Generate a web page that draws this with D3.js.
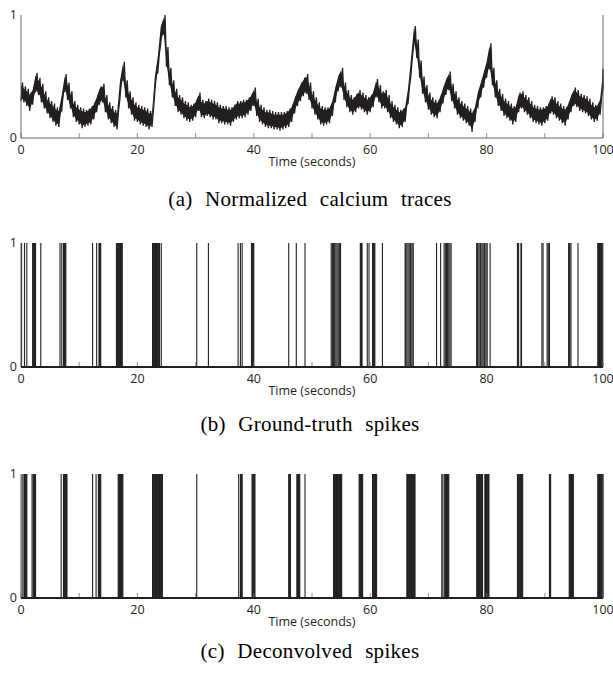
<!DOCTYPE html>
<html>
<head>
<meta charset="utf-8">
<script src="https://cdn.jsdelivr.net/npm/d3@7"></script>
<style>
  body { margin: 0; background: #fff; }
  svg { display: block; }
  .tick-label { font-family: "Open Sans", sans-serif; font-size: 12.5px; fill: #231f20; }
  .caption { font-family: "Liberation Serif", "Times New Roman", serif; font-size: 21px; fill: #000; word-spacing: 7px; letter-spacing: 0.3px; }
</style>
</head>
<body>
<div id="chart"></div>
<script>
// calcium trace, one sample every 0.5 s from 0 to 100 s:
// lower and upper edge of the noisy trace
var traceStep = 0.5;
var traceLow = [
  0.30, 0.29, 0.26, 0.22, 0.27, 0.37, 0.35, 0.29, 0.24, 0.20,
  0.16, 0.13, 0.10, 0.09, 0.22, 0.38, 0.31, 0.24, 0.17, 0.13,
  0.11, 0.08, 0.09, 0.10, 0.11, 0.15, 0.21, 0.27, 0.29, 0.21,
  0.15, 0.12, 0.09, 0.07, 0.32, 0.47, 0.33, 0.24, 0.19, 0.14,
  0.13, 0.11, 0.10, 0.09, 0.07, 0.09, 0.38, 0.53, 0.76, 0.84,
  0.58, 0.43, 0.33, 0.26, 0.21, 0.19, 0.16, 0.14, 0.13, 0.14,
  0.17, 0.22, 0.17, 0.16, 0.18, 0.17, 0.15, 0.15, 0.12, 0.12,
  0.11, 0.11, 0.10, 0.13, 0.15, 0.16, 0.16, 0.17, 0.19, 0.22,
  0.26, 0.18, 0.13, 0.11, 0.09, 0.08, 0.08, 0.07, 0.07, 0.06,
  0.07, 0.08, 0.09, 0.13, 0.20, 0.26, 0.30, 0.34, 0.36, 0.31,
  0.24, 0.19, 0.15, 0.11, 0.10, 0.11, 0.12, 0.18, 0.29, 0.38,
  0.41, 0.31, 0.25, 0.21, 0.19, 0.21, 0.24, 0.23, 0.21, 0.19,
  0.21, 0.25, 0.33, 0.29, 0.24, 0.24, 0.21, 0.16, 0.13, 0.11,
  0.08, 0.09, 0.13, 0.28, 0.51, 0.77, 0.65, 0.49, 0.36, 0.29,
  0.23, 0.19, 0.17, 0.16, 0.21, 0.28, 0.35, 0.39, 0.30, 0.24,
  0.19, 0.16, 0.14, 0.12, 0.10, 0.05, 0.13, 0.25, 0.33, 0.41,
  0.49, 0.56, 0.43, 0.33, 0.26, 0.22, 0.18, 0.16, 0.14, 0.11,
  0.13, 0.21, 0.24, 0.21, 0.19, 0.16, 0.13, 0.12, 0.11, 0.10,
  0.12, 0.14, 0.20, 0.19, 0.16, 0.14, 0.12, 0.10, 0.15, 0.21,
  0.26, 0.25, 0.22, 0.21, 0.20, 0.18, 0.15, 0.13, 0.14, 0.19,
  0.40
];
var traceHigh = [
  0.45, 0.42, 0.40, 0.37, 0.41, 0.53, 0.49, 0.44, 0.38, 0.33,
  0.30, 0.28, 0.25, 0.24, 0.37, 0.52, 0.45, 0.38, 0.30, 0.27,
  0.25, 0.24, 0.23, 0.24, 0.26, 0.29, 0.35, 0.42, 0.44, 0.35,
  0.29, 0.26, 0.23, 0.22, 0.48, 0.62, 0.47, 0.38, 0.33, 0.29,
  0.27, 0.26, 0.25, 0.24, 0.22, 0.22, 0.52, 0.68, 0.92, 1.00,
  0.74, 0.57, 0.47, 0.40, 0.35, 0.33, 0.30, 0.29, 0.27, 0.28,
  0.31, 0.37, 0.31, 0.30, 0.32, 0.31, 0.30, 0.29, 0.27, 0.26,
  0.26, 0.25, 0.25, 0.27, 0.30, 0.30, 0.31, 0.31, 0.33, 0.36,
  0.41, 0.32, 0.27, 0.25, 0.23, 0.23, 0.22, 0.21, 0.21, 0.21,
  0.21, 0.22, 0.24, 0.27, 0.34, 0.40, 0.45, 0.49, 0.52, 0.45,
  0.38, 0.33, 0.29, 0.26, 0.25, 0.25, 0.26, 0.32, 0.43, 0.52,
  0.57, 0.45, 0.39, 0.35, 0.33, 0.36, 0.39, 0.37, 0.35, 0.33,
  0.35, 0.39, 0.48, 0.43, 0.38, 0.39, 0.35, 0.30, 0.27, 0.25,
  0.23, 0.24, 0.27, 0.42, 0.66, 0.91, 0.80, 0.63, 0.50, 0.43,
  0.37, 0.33, 0.31, 0.30, 0.35, 0.42, 0.49, 0.54, 0.44, 0.38,
  0.33, 0.30, 0.28, 0.26, 0.24, 0.22, 0.27, 0.39, 0.47, 0.55,
  0.64, 0.77, 0.57, 0.47, 0.40, 0.36, 0.32, 0.30, 0.28, 0.26,
  0.27, 0.37, 0.38, 0.35, 0.33, 0.30, 0.27, 0.26, 0.25, 0.25,
  0.26, 0.28, 0.34, 0.33, 0.30, 0.28, 0.26, 0.25, 0.29, 0.36,
  0.41, 0.39, 0.36, 0.35, 0.34, 0.32, 0.29, 0.27, 0.28, 0.33,
  0.56
];

// spike times (seconds)
var groundTruthSpikes = [
  0.1, 0.6, 1.0,
  2.0, 2.1, 2.2, 2.3, 2.4, 2.5,
  3.4,
  6.7, 7.0, 7.3, 7.4, 7.5, 7.6, 7.7,
  12.3, 13.0, 13.4, 13.5, 13.6, 13.7,
  16.4, 16.6, 16.7, 16.8, 16.9, 17.0, 17.1, 17.2, 17.3, 17.4,
  22.6, 22.7, 22.8, 22.9, 23.0, 23.1, 23.2, 23.3, 23.4, 23.5, 23.6, 23.8, 24.1,
  30.2,
  32.2,
  37.3, 37.7, 38.0,
  39.6, 39.7, 39.8, 39.9, 40.0,
  46.0,
  47.3,
  48.8,
  53.3, 53.5, 53.7, 53.9, 54.1, 54.3, 54.5, 54.7, 54.9,
  58.3, 58.4, 58.5, 58.6,
  59.5, 59.8, 60.4, 60.5, 60.6, 60.7, 60.8,
  62.1,
  66.0, 66.1, 66.3, 66.5, 66.7, 66.9, 67.0, 67.2, 67.4,
  71.4, 72.1, 72.7, 72.9, 73.1, 73.3, 73.5, 73.7, 73.9,
  78.3, 78.4, 78.5, 78.7, 78.9, 79.0, 79.2, 79.4, 79.6, 79.7, 79.9, 80.1, 80.6,
  85.3, 85.5, 85.9, 86.0,
  89.5, 89.7, 90.4, 90.6, 90.8,
  94.1, 94.2, 94.3, 94.5, 95.7,
  99.1, 99.2, 99.3, 99.4, 99.5, 99.6, 99.7, 99.8, 99.9
];

var deconvolvedSpikes = [
  0.2, 0.5, 0.6, 0.7, 0.8, 0.9, 1.0,
  1.9, 2.1, 2.2, 2.3, 2.4, 2.5,
  6.9, 7.3, 7.4, 7.5, 7.6, 7.7, 7.8, 7.9,
  12.3, 12.9, 13.3, 13.4, 13.5, 13.6, 13.7,
  16.7, 16.8, 16.9, 17.0, 17.1, 17.2, 17.3, 17.4, 17.5,
  22.6, 22.7, 22.8, 22.9, 23.0, 23.1, 23.2, 23.3, 23.4, 23.5, 23.6, 23.7, 23.8, 23.9, 24.0, 24.1, 24.2, 24.3,
  30.2,
  37.4, 37.7, 37.8, 37.9, 38.0,
  39.7, 39.8, 39.9, 40.0, 40.1, 40.2,
  46.0, 46.1, 46.2, 46.3,
  47.4, 47.5, 47.6, 47.7, 47.8, 47.9,
  48.8,
  53.7, 53.8, 53.9, 54.0, 54.1, 54.2, 54.3, 54.4, 54.5, 54.6, 54.7, 54.8, 54.9, 55.0, 55.1,
  58.1, 58.2, 58.3, 58.4, 58.5, 58.6, 58.7,
  60.4, 60.5, 60.6, 60.7, 60.8, 60.9, 61.0, 61.1,
  66.3, 66.4, 66.5, 66.6, 66.7, 66.8, 66.9, 67.0, 67.1, 67.2, 67.3, 67.4, 67.5, 67.6, 67.7,
  72.3, 72.5, 72.8, 72.9, 73.0, 73.1, 73.2, 73.3, 73.4, 73.5,
  78.3, 78.4, 78.5, 78.6, 78.7, 78.8, 78.9, 79.0, 79.1, 79.2, 79.3,
  79.7, 79.8, 79.9, 80.0, 80.1, 80.2, 80.3, 80.4,
  85.3, 85.5, 85.6, 85.7, 85.8, 85.9, 86.0, 86.1, 86.2,
  90.8, 90.9, 91.0,
  94.2, 94.3, 94.4, 94.5, 94.6, 94.7, 94.8, 94.9,
  99.1, 99.2, 99.3, 99.4, 99.5, 99.6, 99.7, 99.8, 99.9, 100.0
];

var xTickLabels = [0, 20, 40, 60, 80, 100];
var xTicks = [0, 10, 20, 30, 40, 50, 60, 70, 80, 90, 100];
var yTickLabels = [0, 1];
var captions = ["(a) Normalized calcium traces", "(b) Ground-truth spikes", "(c) Deconvolved spikes"];
var xLabel = "Time (seconds)";

var width = 613, height = 673;
var left = 21, right = 603;
var ink = "#231f20";

var svg = d3.select("#chart").append("svg")
    .attr("width", width)
    .attr("height", height);

var x = d3.scaleLinear().domain([0, 100]).range([left, right]);

// top / bottom of each panel and caption baseline
var panels = [
  { top: 15,  bottom: 138, caption: 206 },
  { top: 243, bottom: 367, caption: 431 },
  { top: 474, bottom: 598, caption: 658 }
];

function drawFrame(g, y, idx, thickBase) {
    var p = panels[idx];

    // tick marks pointing inside
    g.selectAll(".xtick")
        .data(xTicks)
        .enter().append("line")
        .attr("x1", function(d) { return x(d); })
        .attr("x2", function(d) { return x(d); })
        .attr("y1", y(0))
        .attr("y2", y(0) - 5)
        .attr("stroke", "#777")
        .attr("stroke-width", 0.8);

    // left and right lines
    g.append("line")
        .attr("x1", left).attr("x2", left)
        .attr("y1", y(1)).attr("y2", y(0))
        .attr("stroke", "#555").attr("stroke-width", 0.9);
    g.append("line")
        .attr("x1", right).attr("x2", right)
        .attr("y1", y(1)).attr("y2", y(0))
        .attr("stroke", "#555").attr("stroke-width", 0.9);

    // bottom axis line
    g.append("line")
        .attr("x1", left).attr("x2", right)
        .attr("y1", y(0)).attr("y2", y(0))
        .attr("stroke", thickBase ? ink : "#555")
        .attr("stroke-width", thickBase ? 2 : 0.9);

    g.selectAll(".xlab")
        .data(xTickLabels)
        .enter().append("text")
        .attr("class", "tick-label")
        .attr("x", function(d) { return x(d); })
        .attr("y", y(0) + 16)
        .attr("text-anchor", "middle")
        .text(function(d) { return d; });

    g.selectAll(".ylab")
        .data(yTickLabels)
        .enter().append("text")
        .attr("class", "tick-label")
        .attr("x", left - 4)
        .attr("y", function(d) { return y(d) + 4; })
        .attr("text-anchor", "end")
        .text(function(d) { return d; });

    g.append("text")
        .attr("class", "tick-label")
        .attr("x", (left + right) / 2)
        .attr("y", y(0) + 28)
        .attr("text-anchor", "middle")
        .text(xLabel);

    g.append("text")
        .attr("class", "caption")
        .attr("x", (left + right) / 2 - 2)
        .attr("y", p.caption)
        .attr("text-anchor", "middle")
        .text(captions[idx]);
}

// (a) calcium trace: solid band between the edges, with a zig-zag on top for the noise
(function() {
    var p = panels[0];
    var y = d3.scaleLinear().domain([0, 1]).range([p.bottom, p.top]);
    var g = svg.append("g");

    var band = d3.area()
        .x(function(d, i) { return x(i * traceStep); })
        .y0(function(d, i) { return y(traceLow[i] + 0.02); })
        .y1(function(d, i) { return y(traceHigh[i] - 0.02); });

    g.append("path")
        .datum(traceLow)
        .attr("fill", ink)
        .attr("d", band);

    var pts = [];
    traceLow.forEach(function(lo, i) {
        pts.push([i * traceStep, lo]);
        if (i < traceLow.length - 1) pts.push([i * traceStep + traceStep / 2, traceHigh[i]]);
        else pts.push([i * traceStep, traceHigh[i]]);
    });

    var line = d3.line()
        .x(function(d) { return x(d[0]); })
        .y(function(d) { return y(d[1]); });

    g.append("path")
        .datum(pts)
        .attr("fill", "none")
        .attr("stroke", ink)
        .attr("stroke-width", 1.3)
        .attr("d", line);

    drawFrame(g, y, 0, false);
})();

// (b) and (c) spike rasters
function drawSpikes(idx, spikes) {
    var p = panels[idx];
    var y = d3.scaleLinear().domain([0, 1]).range([p.bottom, p.top]);
    var g = svg.append("g");

    g.selectAll(".spike")
        .data(spikes)
        .enter().append("line")
        .attr("class", "spike")
        .attr("x1", function(d) { return x(d); })
        .attr("x2", function(d) { return x(d); })
        .attr("y1", y(0))
        .attr("y2", y(1))
        .attr("stroke", ink)
        .attr("stroke-width", 1.1);

    drawFrame(g, y, idx, true);
}

drawSpikes(1, groundTruthSpikes);
drawSpikes(2, deconvolvedSpikes);
</script>
</body>
</html>
